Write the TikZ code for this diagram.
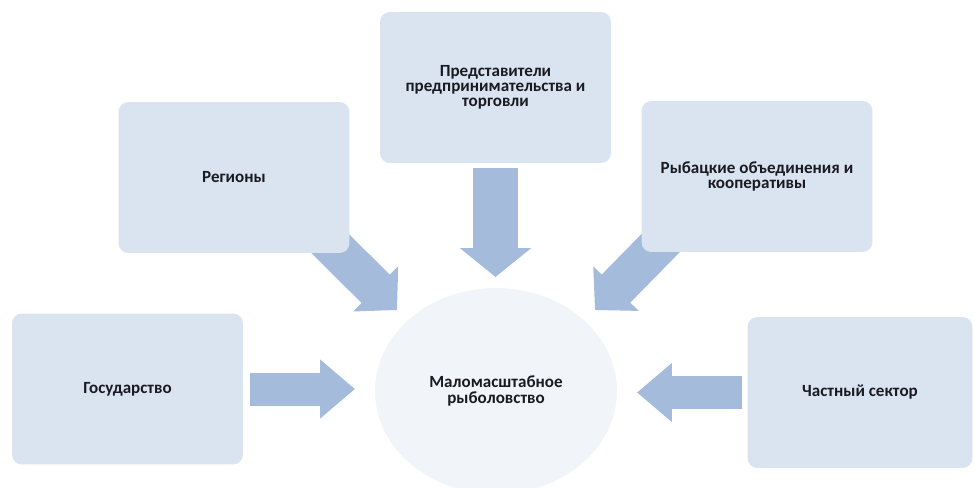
\documentclass[tikz,border=0pt]{standalone}
\usepackage{fontspec}
\setmainfont{Carlito}
\usetikzlibrary{shapes.geometric, arrows.meta, positioning, backgrounds}
\definecolor{boxfill}{HTML}{DAE4F0}
\definecolor{arrowfill}{HTML}{A5BBDB}
\definecolor{hubfill}{HTML}{F1F4F9}
\definecolor{textdark}{HTML}{1A1A22}
\tikzset{
  actorbox/.style={rounded corners=0.2cm, minimum width=4.62cm, minimum height=3.02cm,
                   fill=boxfill, text=textdark, align=center, inner sep=2pt,
                   font=\fontsize{9.7}{8.6}\selectfont\bfseries},
  hubnode/.style={ellipse, minimum width=4.84cm, minimum height=4.12cm, fill=hubfill,
                  text=textdark, align=center, font=\fontsize{9.7}{8.6}\selectfont\bfseries},
  blockarrow/.style={draw=arrowfill, line width=0.66cm, -{Triangle[length=0.7cm, width=1.14cm]}},
  downarrow/.style={blockarrow, line width=0.9cm, -{Triangle[length=0.58cm, width=1.4cm]}},
  slantarrow/.style={blockarrow, line width=0.8cm, -{Triangle[length=0.6cm, width=1.24cm]}},
}

\begin{document}
\begin{tikzpicture}[x=0.02cm, y=-0.02cm]
  \useasboundingbox (0,0) rectangle (974,487);

  % actors around the centre
  \node[actorbox] (trade) at (495.5, 87.5) {Представители\\предпринимательства и\\торговли};
  \node[actorbox] (reg) at (234, 177.5) {Регионы};
  \node[actorbox] (coop) at (757, 176.5) {Рыбацкие объединения и\\кооперативы};
  \node[actorbox] (gov) at (127.5, 389) {Государство};
  \node[actorbox, minimum width=4.5cm] (priv) at (860, 392.5) {Частный сектор};
  \node[hubnode] (hub) at (496, 391) {Маломасштабное\\рыболовство};

  % arrow tips, short of the hub
  \coordinate (govtip) at (355, 389);
  \coordinate (privtip) at (637, 392.5);
  \coordinate (tradetip) at (495.5, 277);
  \coordinate (regtip) at (397, 310);
  \coordinate (cooptip) at (595, 310);

  \begin{scope}[on background layer]
    \fill[white] (0,0) rectangle (974,487);
    \draw[blockarrow, shorten <=0.14cm] (gov) -- (govtip);
    \draw[blockarrow, shorten <=0.1cm] (priv) -- (privtip);
    \draw[downarrow, shorten <=0.1cm] (trade) -- (tradetip);
    \draw[slantarrow] ([xshift=-0.6cm, yshift=0.4cm]reg.south east) -- (regtip);
    \draw[slantarrow] ([xshift=0.6cm, yshift=0.4cm]coop.south west) -- (cooptip);
  \end{scope}
\end{tikzpicture}
\end{document}
